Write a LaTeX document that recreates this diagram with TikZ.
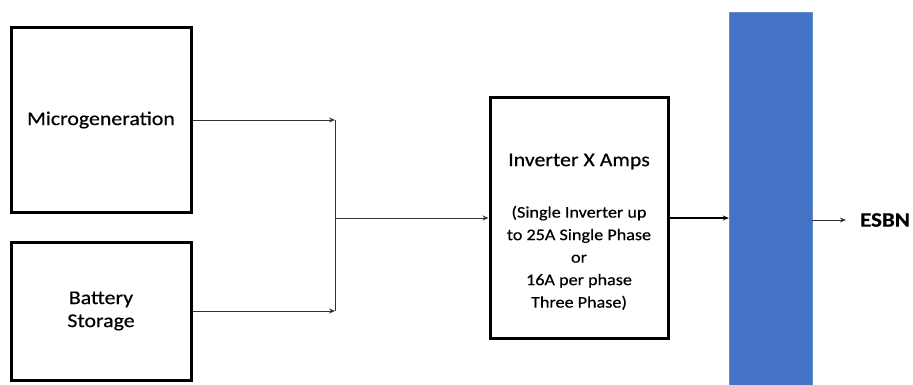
\documentclass[tikz,border=0pt]{standalone}
\usepackage{fontspec}
\setmainfont{Carlito}[FakeStretch=1.12, FakeBold=0.5]
\usetikzlibrary{arrows.meta, positioning}

\begin{document}
\begin{tikzpicture}[
  x=1pt, y=-1pt,
  >={Stealth[length=6pt,width=5pt]},
  block/.style={rectangle, draw, line width=3pt, minimum width=180pt, font=\fontsize{19.5}{23}\selectfont, align=center, inner sep=0pt},
  link/.style={->, draw=black!80, line width=0.9pt},
]
  \useasboundingbox (0,0) rectangle (913,385);

  \node[block, minimum height=184pt] (micro) at (101,120) {Microgeneration};
  \node[block, minimum height=138pt] (batt) at (101,311) {Battery\\ Storage};

  \node[block, minimum width=178pt, minimum height=240pt, font=\fontsize{16.2}{22.5}\selectfont] (inv) at (579,218) {\rule{0pt}{40pt}{\fontsize{19.5}{23}\selectfont Inverter X Amps}\\[29pt]
    (Single Inverter up\\
    to 25A Single Phase\\
    or\\
    16A per phase\\
    Three Phase)
  };

  \node[rectangle, fill={rgb,255:red,68;green,114;blue,196}, draw={rgb,255:red,98;green,140;blue,210}, minimum width=83pt, minimum height=375pt] (bus) at (770.5,199.5) {};

  \node[font=\fontsize{20.5}{23}\selectfont\bfseries, inner xsep=14pt] (esbn) at (885,220) {ESBN};

  \coordinate (join) at (335,218);

  \draw[link] (micro.east) -- (micro.east -| join);
  \draw[link] (batt.east) -- (batt.east -| join);
  \draw[draw=black!80, line width=0.9pt] (micro.east -| join) -- (batt.east -| join);
  \draw[link] (join) -- (inv.west);
  \draw[->, line width=1.3pt] (inv.east) -- (inv.east -| bus.west);
  \draw[link] (bus.east |- esbn.west) -- (esbn.west);
\end{tikzpicture}
\end{document}
